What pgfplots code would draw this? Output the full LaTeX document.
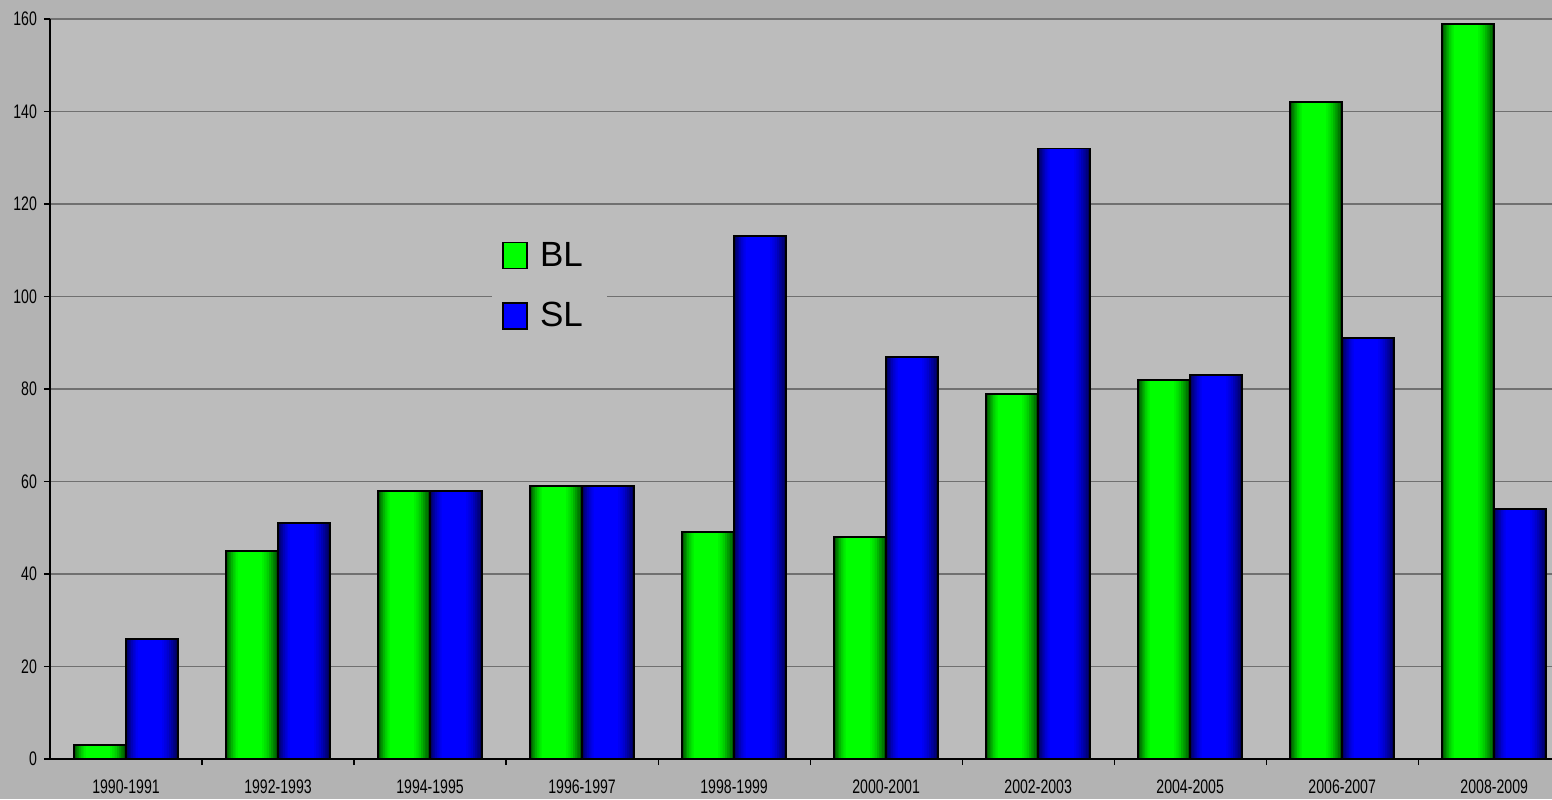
\documentclass[border=0pt]{standalone}
\usepackage{fontspec}
\setmainfont{Liberation Sans}
\newfontfamily\narrowfont[FakeStretch=0.72]{Liberation Sans}
\usepackage{pgfplots}
\usepackage{pgfplotstable}
\pgfplotsset{compat=1.18}

\pgfplotstableread{
x  BL   SL
0  3    26
1  45   51
2  58   58
3  59   59
4  49   113
5  48   87
6  79   132
7  82   83
8  142  91
9  159  54
}\data

\definecolor{pagegray}{RGB}{179,179,179}
\definecolor{plotgray}{RGB}{188,188,188}
\definecolor{gridgray}{RGB}{112,112,112}
\definecolor{greenhi}{RGB}{0,255,0}
\definecolor{greendk}{RGB}{0,45,0}
\definecolor{bluehi}{RGB}{0,0,255}
\definecolor{bluedk}{RGB}{0,0,55}

% shadings do not survive the rasteriser, so each bar is built from
% nested solid bars that get lighter towards the middle
\pgfplotsset{
  layer/.style n args={3}{ybar, forget plot, draw=none,
                          bar width=#1pt, bar shift=#2pt, fill=#3},
  outline/.style={ybar, bar width=26pt, bar shift=#1pt, fill=none,
                  draw=black, line width=0.9pt},
}

\begin{document}
\begin{tikzpicture}
% page background, 1px = 0.5pt
\fill[pagegray] (-25pt,-20pt) rectangle (751pt,379.5pt);
\begin{axis}[
    scale only axis,
    width=751pt, height=370pt,
    axis background/.style={fill=plotgray},
    xmin=-0.5, xmax=9.38,
    ymin=0, ymax=160,
    axis x line*=bottom, axis y line*=left,
    axis line style={black, line width=0.6pt, -},
    ytick={0,20,...,160},
    xtick={0,...,9},
    xticklabels={1990-1991,1992-1993,1994-1995,1996-1997,1998-1999,
                 2000-2001,2002-2003,2004-2005,2006-2007,2008-2009},
    minor xtick={0.5,1.5,...,8.5},
    major x tick style={draw=none},
    minor x tick style={black, line width=0.6pt},
    ytick style={black, line width=0.6pt},
    tick align=outside,
    major tick length=3pt, minor tick length=3pt,
    ymajorgrids,
    grid style={gridgray, line width=0.8pt},
    tick label style={font=\fontsize{9.8}{11}\narrowfont},
    /pgf/number format/assume math mode=true,
    xticklabel style={yshift=-4pt},
    legend style={draw=none, fill=plotgray, at={(0.2943,0.718)},
                  anchor=north west, inner xsep=5pt, inner ysep=5pt,
                  font=\fontsize{17.5}{21}\selectfont,
                  row sep=12.5pt},
    legend cell align=left,
]
% BL
\addplot[layer={26}{-13}{greenhi!20!greendk}]   table[x=x, y=BL] {\data};
\addplot[layer={24}{-13.15}{greenhi!36!greendk}] table[x=x, y=BL] {\data};
\addplot[layer={22}{-13.3}{greenhi!51!greendk}]  table[x=x, y=BL] {\data};
\addplot[layer={20}{-13.45}{greenhi!64!greendk}] table[x=x, y=BL] {\data};
\addplot[layer={18}{-13.6}{greenhi!76!greendk}]  table[x=x, y=BL] {\data};
\addplot[layer={16}{-13.75}{greenhi!86!greendk}] table[x=x, y=BL] {\data};
\addplot[layer={14}{-13.9}{greenhi!94!greendk}]  table[x=x, y=BL] {\data};
\addplot[layer={12}{-14.05}{greenhi}]            table[x=x, y=BL] {\data};
\addplot[outline=-13, legend image code/.code={\draw[fill=greenhi, draw=black, line width=0.8pt]
           (0pt,-6.5pt) rectangle (12pt,6.5pt);}] table[x=x, y=BL] {\data};
\addlegendentry{\makebox[30.5pt][l]{\kern4pt BL}}
% SL
\addplot[layer={26}{13}{bluehi!20!bluedk}]    table[x=x, y=SL] {\data};
\addplot[layer={24}{12.85}{bluehi!36!bluedk}] table[x=x, y=SL] {\data};
\addplot[layer={22}{12.7}{bluehi!51!bluedk}]  table[x=x, y=SL] {\data};
\addplot[layer={20}{12.55}{bluehi!64!bluedk}] table[x=x, y=SL] {\data};
\addplot[layer={18}{12.4}{bluehi!76!bluedk}]  table[x=x, y=SL] {\data};
\addplot[layer={16}{12.25}{bluehi!86!bluedk}] table[x=x, y=SL] {\data};
\addplot[layer={14}{12.1}{bluehi!94!bluedk}]  table[x=x, y=SL] {\data};
\addplot[layer={12}{11.95}{bluehi}]           table[x=x, y=SL] {\data};
\addplot[outline=13, legend image code/.code={\draw[fill=bluehi, draw=black, line width=0.8pt]
           (0pt,-6.5pt) rectangle (12pt,6.5pt);}] table[x=x, y=SL] {\data};
\addlegendentry{\makebox[30.5pt][l]{\kern4pt SL}}
\end{axis}
\pgfresetboundingbox
\path[use as bounding box] (-25pt,-20pt) rectangle (751pt,379.5pt);
\end{tikzpicture}
\end{document}
